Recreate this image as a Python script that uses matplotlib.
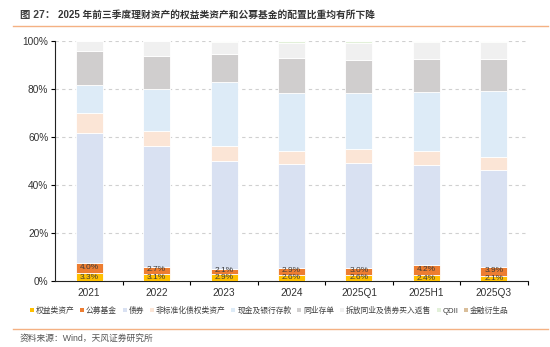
import matplotlib
matplotlib.use("Agg")
import matplotlib.pyplot as plt
from matplotlib.patches import Patch
from matplotlib.lines import Line2D
import numpy as np

plt.rcParams['font.family'] = ['Liberation Sans', 'Noto Sans CJK SC', 'DejaVu Sans']

categories = ['2021', '2022', '2023', '2024', '2025Q1', '2025H1', '2025Q3']
series_names = ['权益类资产', '公募基金', '债券', '非标准化债权类资产', '现金及银行存款',
                '同业存单', '拆放同业及债券买入返售', 'QDII', '金融衍生品']
equity = [3.3, 3.1, 2.9, 2.6, 2.6, 2.4, 2.1]
public_funds = [4.0, 2.7, 2.1, 2.9, 3.0, 4.2, 3.9]
bonds = [54.5, 50.3, 45.0, 43.4, 43.7, 41.6, 40.2]
non_standard = [8.2, 6.5, 6.4, 5.4, 5.7, 5.8, 5.3]
cash_deposits = [11.7, 17.4, 26.6, 24.0, 23.3, 24.7, 27.7]
interbank_cds = [14.0, 13.6, 11.5, 14.5, 13.8, 13.9, 13.2]
repo_lending = [4.1, 6.2, 5.2, 6.5, 7.2, 6.9, 7.1]
qdii = [0.2, 0.2, 0.3, 0.7, 0.7, 0.5, 0.5]
derivatives = [0.0, 0.0, 0.0, 0.0, 0.0, 0.0, 0.0]

series = [equity, public_funds, bonds, non_standard, cash_deposits,
          interbank_cds, repo_lending, qdii, derivatives]
colors = ['#FFC000', '#ED7D31', '#D9E1F2', '#FBE5D6', '#DDEBF7',
          '#D0CECE', '#F0F0F0', '#E2F0D9', '#D9BE9A']

fig = plt.figure(figsize=(5.5, 3.47), dpi=100)
ax = fig.add_axes([0.1005, 0.1902, 0.8590, 0.6916])

x = np.arange(len(categories))
bottom = np.zeros(len(categories))
for vals, col in zip(series, colors):
    v = np.array(vals)
    ax.bar(x, v, 0.4, bottom=bottom, color=col, edgecolor='white', linewidth=0.6, zorder=3)
    bottom += v

# value labels on the equity and public-fund segments
for i in range(len(categories)):
    ax.text(x[i], equity[i] / 2, f'{equity[i]:.1f}%', ha='center', va='center',
            fontsize=6.0, color='#3a3a3a', zorder=4)
    ax.text(x[i], equity[i] + public_funds[i] / 2 + 0.3, f'{public_funds[i]:.1f}%', ha='center',
            va='center', fontsize=6.0, color='#3a3a3a', zorder=4)

ax.set_xlim(-0.5, len(categories) - 0.5)
ax.set_ylim(0, 100)
ax.set_yticks(np.arange(0, 101, 20))
ax.set_yticklabels([f'{t}%' for t in range(0, 101, 20)])
ax.yaxis.grid(True, linestyle=(0, (3, 3)), color='#d0d0d0', linewidth=0.8, zorder=0)
ax.set_axisbelow(True)

ax.set_xticks(x)
ax.set_xticklabels(categories)
ax.set_xticks(np.arange(0.5, len(categories), 1), minor=True)
ax.tick_params(axis='x', which='major', length=0, pad=5, labelsize=7.3, labelcolor='#333333')
ax.tick_params(axis='x', which='minor', length=3, direction='out', width=0.8)
ax.tick_params(axis='y', length=3, direction='out', width=0.8, pad=2, labelsize=7.3,
               labelcolor='#333333')

for s in ['top', 'right']:
    ax.spines[s].set_visible(False)
for s in ['left', 'bottom']:
    ax.spines[s].set_color('#222222')
    ax.spines[s].set_linewidth(0.8)

handles = [Patch(facecolor=c, edgecolor='none') for c in colors]
fig.legend(handles, series_names, loc='center left', bbox_to_anchor=(0.054, 0.104), ncol=9,
           frameon=False, fontsize=5.6, handlelength=0.5, handleheight=0.5,
           handletextpad=0.25, columnspacing=0.75, labelcolor='#404040',
           borderaxespad=0, borderpad=0)

# title bar and source note
fig.text(0.036, 0.957, '图 27：', fontsize=7.5, color='#404040', weight='bold', va='center')
fig.text(0.106, 0.957, '2025 年前三季度理财资产的权益类资产和公募基金的配置比重均有所下降',
         fontsize=7.0, color='#333333', weight='bold', va='center')
fig.add_artist(Line2D([0.024, 0.997], [0.925, 0.925], color='#F4B183', linewidth=1.0))
fig.add_artist(Line2D([0.024, 0.997], [0.052, 0.052], color='#F4B183', linewidth=1.0))
fig.text(0.036, 0.026, '资料来源：Wind，天风证券研究所', fontsize=6.3, color='#555555', va='center')

fig.savefig('out.png', dpi=100)
